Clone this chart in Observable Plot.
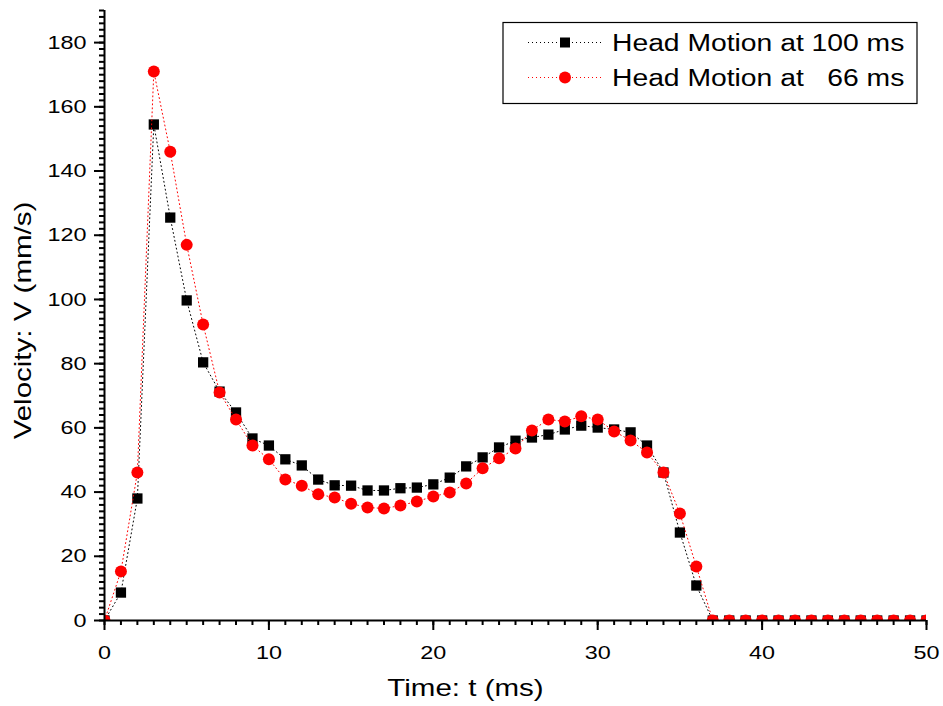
<!DOCTYPE html>
<html>
<head>
<meta charset="utf-8">
<script src="https://cdn.jsdelivr.net/npm/d3@7"></script>
<script src="https://cdn.jsdelivr.net/npm/@observablehq/plot@0.6"></script>
<style>
  body { margin: 0; background: #fff; }
  svg { font-family: "Liberation Sans", Arial, sans-serif; }
</style>
</head>
<body>
<div id="chart"></div>
<script>
// Time steps (ms)
const time = d3.range(0, 51);

// Velocity (mm/s) of the head motion sampled at 100 ms
const v100 = [
  0, 8.7, 38, 154.5, 125.5, 99.7, 80.4, 71.3, 64.8, 56.7,
  54.5, 50.2, 48.3, 43.9, 42.1, 42, 40.5, 40.5, 41.2, 41.4,
  42.4, 44.5, 48, 50.8, 53.9, 56, 57, 57.9, 59.5, 60.7,
  60.1, 59.5, 58.6, 54.5, 46.1, 27.4, 10.9, 0, 0, 0,
  0, 0, 0, 0, 0, 0, 0, 0, 0, 0, 0
];

// Velocity (mm/s) of the head motion sampled at 66 ms
const v66 = [
  0, 15.3, 46.1, 171, 146, 117, 92.2, 71, 62.6, 54.5,
  50.2, 43.9, 42, 39.3, 38.3, 36.4, 35.2, 34.9, 35.8, 37.1,
  38.6, 39.9, 42.7, 47.4, 50.5, 53.6, 59.2, 62.6, 62, 63.6,
  62.6, 58.9, 56.1, 52.3, 46.1, 33.3, 16.8, 0, 0, 0,
  0, 0, 0, 0, 0, 0, 0, 0, 0, 0, 0
];

const seriesNames = ["Head Motion at 100 ms", "Head Motion at   66 ms"];
const seriesColors = ["#000000", "#ff0000"];

const xMajor = d3.range(0, 51, 10);
const xMinor = d3.range(0, 51, 1);
const yMajor = d3.range(0, 181, 20);
const yMinor = d3.range(0, 191, 2);

const rows100 = time.map((t, i) => ({t, v: v100[i]}));
const rows66 = time.map((t, i) => ({t, v: v66[i]}));

const FONT = "Liberation Sans, Arial, sans-serif";
// horizontal widening applied to every label (wide sans look)
const TEXT_STRETCH = 1.23;
const DOTTED = "1,3";

// Boxed legend in the upper right corner of the frame
function legend(index, scales, values, dims) {
  const right = dims.width - dims.marginRight - 9;
  const left = right - 414;
  const top = dims.marginTop + 12.5;
  const h = 81;
  const g = d3.create("svg:g");
  g.append("rect")
    .attr("x", left).attr("y", top).attr("width", right - left).attr("height", h)
    .attr("fill", "white").attr("stroke", "black").attr("stroke-width", 1.2);
  const rowY = [top + 20, top + 55];
  seriesNames.forEach((name, i) => {
    const y = rowY[i];
    g.append("line")
      .attr("x1", left + 25).attr("x2", left + 99).attr("y1", y).attr("y2", y)
      .attr("stroke", seriesColors[i]).attr("stroke-width", 1)
      .attr("stroke-dasharray", DOTTED);
    const cx = left + 62;
    if (i === 0) {
      g.append("rect").attr("x", cx - 5).attr("y", y - 5).attr("width", 10).attr("height", 10)
        .attr("fill", seriesColors[i]);
    } else {
      g.append("circle").attr("cx", cx).attr("cy", y).attr("r", 6).attr("fill", seriesColors[i]);
    }
    g.append("text")
      .attr("transform", `translate(${left + 109},${y})`)
      .attr("dy", "0.36em")
      .attr("text-anchor", "start")
      .attr("font-size", 23).attr("font-family", FONT)
      .attr("fill", "black")
      .style("white-space", "pre").attr("xml:space", "preserve")
      .text(name);
  });
  return g.node();
}

const chart = Plot.plot({
  width: 943,
  height: 706,
  marginLeft: 104,
  marginRight: 17,
  marginTop: 10,
  marginBottom: 86,
  style: {fontFamily: FONT, background: "white", overflow: "visible"},
  x: {domain: [0, 50], label: null},
  y: {domain: [0, 190], label: null},
  marks: [
    // minor ticks
    Plot.axisX(xMinor, {tickSize: 5, strokeWidth: 2, tickFormat: () => "", label: null}),
    Plot.axisY(yMinor, {tickSize: 5, strokeWidth: 2, tickFormat: () => "", label: null}),
    // major ticks with labels
    Plot.axisX(xMajor, {tickSize: 10, strokeWidth: 2, tickPadding: 15, fontSize: 19, label: null}),
    Plot.axisY(yMajor, {tickSize: 10, strokeWidth: 2, tickPadding: 8, fontSize: 19, label: null}),
    // series: 100 ms
    Plot.line(rows100, {x: "t", y: "v", stroke: seriesColors[0], strokeWidth: 1, strokeDasharray: DOTTED, clip: true}),
    Plot.dot(rows100, {x: "t", y: "v", symbol: "square", r: 5.8, fill: seriesColors[0], stroke: "none", clip: true}),
    // series: 66 ms
    Plot.line(rows66, {x: "t", y: "v", stroke: seriesColors[1], strokeWidth: 1, strokeDasharray: DOTTED, clip: true}),
    Plot.dot(rows66, {x: "t", y: "v", symbol: "circle", r: 6, fill: seriesColors[1], stroke: "none", clip: true}),
    // axis lines
    Plot.ruleY([0], {strokeWidth: 2}),
    Plot.ruleX([0], {strokeWidth: 2}),
    // axis titles
    Plot.text(["Time: t (ms)"], {frameAnchor: "bottom", lineAnchor: "middle", textAnchor: "middle", dy: 68, dx: -50, fontSize: 24, fill: "black"}),
    Plot.text(["Velocity: V (mm/s)"], {frameAnchor: "left", lineAnchor: "middle", textAnchor: "middle", dx: -81, dy: 5, rotate: -90, fontSize: 24, fill: "black"}),
    legend
  ]
});

// widen every label around its own anchor point
d3.select(chart).selectAll("text").each(function () {
  const t = this.getAttribute("transform") || "";
  this.setAttribute("transform", `${t} scale(${TEXT_STRETCH},1)`);
});

document.getElementById("chart").append(chart);
</script>
</body>
</html>
